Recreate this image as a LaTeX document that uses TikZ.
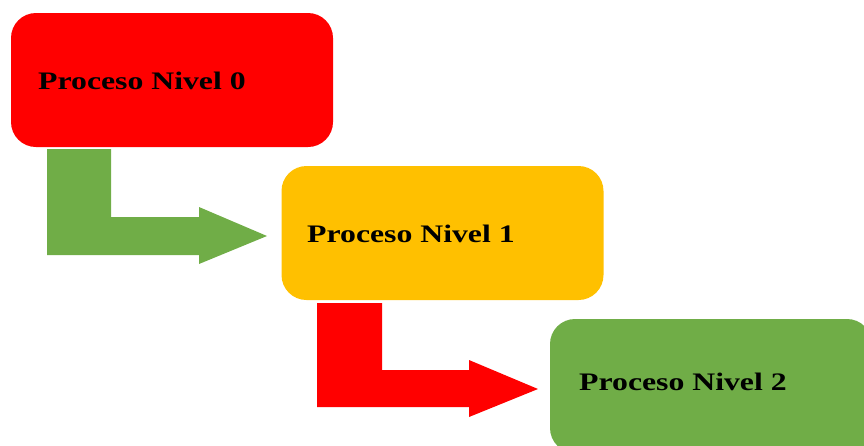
\documentclass[tikz,border=0pt]{standalone}
\usepackage{fontspec}
\newfontfamily\lblfont{Liberation Serif}[FakeStretch=1.26]
\definecolor{redA}{HTML}{FF0000}
\definecolor{orangeA}{HTML}{FFC000}
\definecolor{greenA}{HTML}{70AD47}
\begin{document}
\begin{tikzpicture}[x=1pt,y=-1pt,
  box/.style={rectangle, rounded corners=25pt, minimum width=322pt, minimum height=134pt, inner sep=0pt, draw=none},
  lbl/.style={inner sep=0pt, anchor=base west, font=\lblfont\bfseries\fontsize{25.2}{28}\selectfont, text=black}]
\useasboundingbox (0,0) rectangle (864,445);
\clip (0,0) rectangle (864,445);
\node[box, fill=redA] (b0) at (172,80) {};
\node[box, fill=orangeA] (b1) at (442.5,233) {};
\node[box, fill=greenA] (b2) at (711,386) {};
\node[lbl] (t0) at (38,89) {Proceso Nivel 0};
\node[lbl] (t1) at (307,242) {Proceso Nivel 1};
\node[lbl] (t2) at (579,390) {Proceso Nivel 2};
\fill[greenA] (47,149) -- (111,149) -- (111,217) -- (199,217) -- (199,207) -- (267,236) -- (199,264) -- (199,255) -- (47,255) -- cycle;
\fill[redA] (317,303) -- (382,303) -- (382,370) -- (469,370) -- (469,360) -- (538,389) -- (469,417) -- (469,407) -- (317,407) -- cycle;
\end{tikzpicture}
\end{document}
